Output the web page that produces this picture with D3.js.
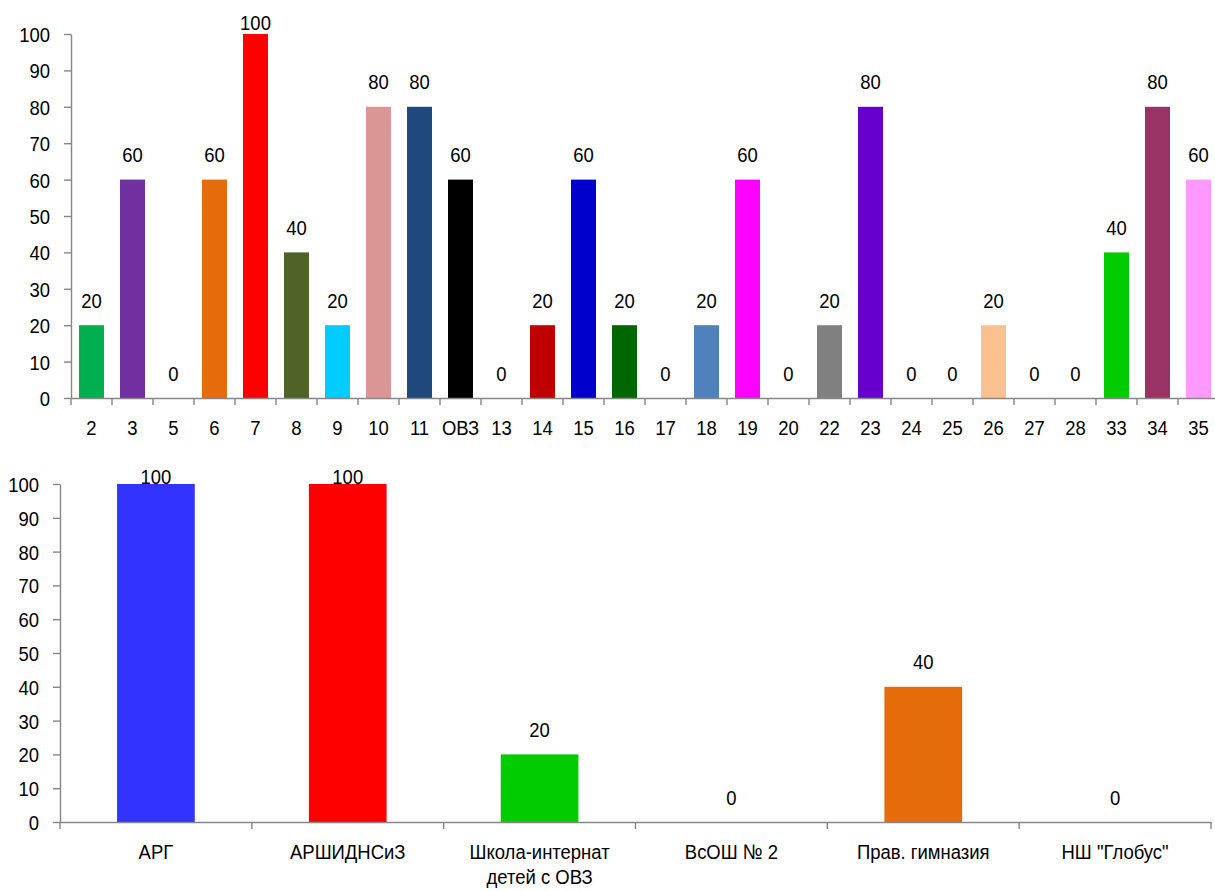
<!DOCTYPE html>
<html>
<head>
<meta charset="utf-8">
<script src="https://cdn.jsdelivr.net/npm/d3@7"></script>
<style>
  html, body { margin: 0; padding: 0; background: #fff; }
  svg { display: block; }
  text { font-family: "Liberation Sans", Arial, sans-serif; font-size: 21px; fill: #000; }
</style>
</head>
<body>
<svg id="chart" width="1215" height="891"></svg>
<script>
// ---- data ----
const topCategories = ["2","3","5","6","7","8","9","10","11","ОВЗ","13","14","15","16","17","18","19","20","22","23","24","25","26","27","28","33","34","35"];
const topValues = [20,60,0,60,100,40,20,80,80,60,0,20,60,20,0,20,60,0,20,80,0,0,20,0,0,40,80,60];
const topColors = ["#00B050","#7030A0","#FFFFFF","#E46C0A","#FF0000","#4F6228","#00CCFF","#DA9694","#1F497D","#000000","#FFFFFF","#C00000","#0000CC","#006600","#FFFFFF","#4F81BD","#FF00FF","#FFFFFF","#808080","#6600CC","#FFFFFF","#FFFFFF","#FAC090","#FFFFFF","#FFFFFF","#00CC00","#993366","#FF99FF"];

const bottomCategories = ["АРГ","АРШИДНСиЗ","Школа-интернат|детей с ОВЗ","ВсОШ № 2","Прав. гимназия","НШ \"Глобус\""];
const bottomValues = [100,100,20,0,40,0];
const bottomColors = ["#3333FF","#FF0000","#00CC00","#FFFFFF","#E46C0A","#FFFFFF"];

const yTickValues = [0,10,20,30,40,50,60,70,80,90,100];

// ---- drawing ----
const svg = d3.select("#chart");
const AXIS = "#868686";
const SX = 0.88; // horizontal compression of text

function drawChart(cfg) {
  const g = svg.append("g");
  const x = d3.scaleBand().domain(cfg.cats).range([cfg.x0, cfg.x1])
    .paddingInner(cfg.pad).paddingOuter(cfg.pad / 2);
  const y = d3.scaleLinear().domain([0, 100]).range([cfg.yBottom, cfg.yTop]);

  // bars
  g.selectAll("rect.bar").data(cfg.values).join("rect")
    .attr("class", "bar")
    .attr("x", (d, i) => x(cfg.cats[i]))
    .attr("width", x.bandwidth())
    .attr("y", d => y(d))
    .attr("height", d => y(0) - y(d))
    .attr("fill", (d, i) => cfg.colors[i]);

  // y axis
  const yAxis = g.append("g")
    .attr("transform", `translate(${cfg.x0},0)`)
    .call(d3.axisLeft(y).tickValues(yTickValues).tickSize(7).tickSizeOuter(0).tickPadding(0));
  yAxis.select(".domain").attr("stroke", AXIS).attr("stroke-width", 1.4);
  yAxis.selectAll(".tick line").attr("stroke", AXIS).attr("stroke-width", 1.4);
  yAxis.selectAll(".tick text")
    .attr("x", 0).attr("dy", null)
    .attr("dominant-baseline", "central")
    .attr("transform", `translate(${-cfg.labelGap},0) scale(${SX},1)`)
    .style("font-size", "21px").style("font-family", "Liberation Sans, Arial, sans-serif")
    .attr("fill", "#000");

  // x axis line
  const xAxis = g.append("g")
    .attr("transform", `translate(0,${cfg.yBottom})`)
    .call(d3.axisBottom(x).tickSize(0).tickSizeOuter(0).tickFormat(""));
  xAxis.select(".domain").attr("stroke", AXIS).attr("stroke-width", 1.4);
  xAxis.selectAll(".tick").remove();

  // boundary ticks between categories
  const bounds = d3.range(cfg.cats.length + 1).map(i => cfg.x0 + i * x.step());
  g.selectAll("line.btick").data(bounds).join("line")
    .attr("class", "btick")
    .attr("x1", d => d).attr("x2", d => d)
    .attr("y1", cfg.yBottom).attr("y2", cfg.yBottom + 7)
    .attr("stroke", AXIS).attr("stroke-width", 1.4);

  // category labels
  const cl = g.selectAll("text.cat").data(cfg.cats).join("text")
    .attr("class", "cat")
    .attr("text-anchor", "middle")
    .attr("transform", d => `translate(${x(d) + x.bandwidth() / 2},${cfg.catY}) scale(${SX},1)`);
  cl.each(function(d) {
    const lines = d.split("|");
    d3.select(this).selectAll("tspan").data(lines).join("tspan")
      .attr("x", 0).attr("y", (l, j) => j * cfg.lineH).text(l => l);
  });

  // value labels
  g.selectAll("text.val").data(cfg.values).join("text")
    .attr("class", "val")
    .attr("text-anchor", "middle")
    .attr("transform", (d, i) => `translate(${x(cfg.cats[i]) + x.bandwidth() / 2},${Math.max(y(d) - 17.5, cfg.valMin)}) scale(${SX},1)`)
    .text(d => d);
}

drawChart({
  cats: topCategories, values: topValues, colors: topColors,
  x0: 71, x1: 1219, pad: 0.39,
  yBottom: 398, yTop: 34,
  labelGap: 21, catY: 435, lineH: 24, valMin: 30
});

drawChart({
  cats: bottomCategories, values: bottomValues, colors: bottomColors,
  x0: 60, x1: 1211, pad: 0.595,
  yBottom: 822, yTop: 484,
  labelGap: 21, catY: 859, lineH: 25, valMin: 484
});
</script>
</body>
</html>
